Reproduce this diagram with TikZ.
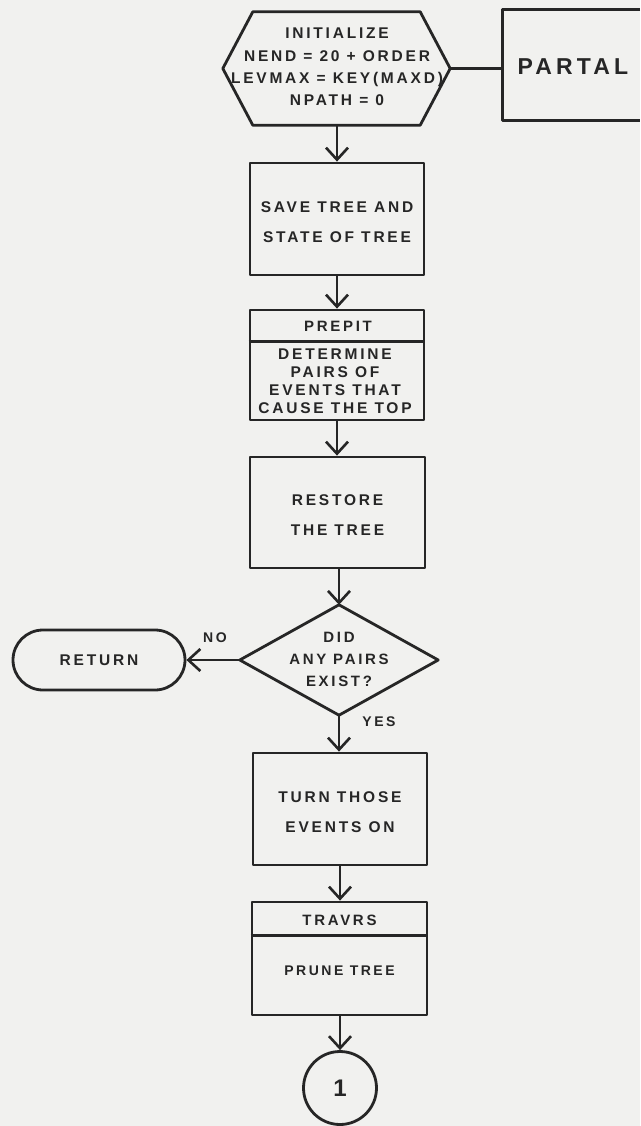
\documentclass[tikz,border=0pt]{standalone}
\usepackage{fontspec}
\setmainfont{Liberation Sans}[LetterSpace=18]
\usetikzlibrary{arrows.meta,shapes.misc,shapes.geometric}
\definecolor{ink}{HTML}{262626}
\definecolor{paper}{HTML}{F1F1EF}
\begin{document}
\begin{tikzpicture}[x=1pt,y=-1pt,
  ln/.style={draw=ink,line width=2.8pt,line join=round},
  arr/.style={ln,-{Straight Barb[length=12pt,width=22pt,line width=2.6pt]}},
  txt/.style={inner sep=0pt,align=center,text=ink,font=\fontsize{15.5}{29.5}\selectfont\bfseries},
  small/.style={inner sep=0pt,align=center,text=ink,font=\fontsize{15}{18}\selectfont\bfseries},
  box/.style={ln,rectangle,inner sep=0pt,minimum width=174pt,minimum height=112pt},
  ghost/.style={rectangle,inner sep=0pt}
]
\useasboundingbox[fill=paper] (0,0) rectangle (640,1126);

% Initialize hexagon
\node[ghost,minimum width=227pt,minimum height=113pt] (init) at (336.5,68.5) {};
\draw[ln] (init.west) -- ([xshift=30pt]init.north west) -- ([xshift=-30pt]init.north east)
  -- (init.east) -- ([xshift=-30pt]init.south east) -- ([xshift=30pt]init.south west) -- cycle;
\node[txt,font=\fontsize{15.5}{22.3}\selectfont\bfseries] (inittxt) at (337,67)
  {INITIALIZE\\NEND = 20 + ORDER\\LEVMAX = KEY(MAXD)\\NPATH = 0};

% PARTAL
\node[ghost,minimum width=137pt,minimum height=110pt] (partal) at (571.5,65) {};
\draw[ln] (partal.north east) -- (partal.north west) -- (partal.south west) -- (partal.south east);
\node[txt,font=\fontsize{23}{26}\selectfont\bfseries] (partaltxt) at (573,67) {PARTAL};
\draw[ln] (init.east) -- (init.east -| partal.west);

% Save tree
\node[box] (save) at (337,219) {};
\node[txt] (savetxt) at (337,222) {SAVE TREE AND\\STATE OF TREE};

% PREPIT
\node[box,minimum height=110pt] (prep) at (337,365) {};
\draw[ln] ([yshift=-33pt]prep.north west) -- ([yshift=-33pt]prep.north east);
\node[small] (prephead) at (338,326) {PREPIT};
\node[small,font=\fontsize{15.5}{18}\selectfont\bfseries] (prepbody) at (335,381) {DETERMINE\\PAIRS OF\\EVENTS THAT\\CAUSE THE TOP};

% Restore
\node[box,minimum width=175pt,minimum height=111pt] (rest) at (337.5,512.5) {};
\node[txt] (resttxt) at (337.5,515) {RESTORE\\THE TREE};

% Decision
\node[ghost,minimum width=198pt,minimum height=110pt] (dia) at (339,660) {};
\draw[ln] (dia.north) -- (dia.east) -- (dia.south) -- (dia.west) -- cycle;
\node[small,font=\fontsize{15}{22}\selectfont\bfseries] (diatxt) at (339,659) {DID\\ANY PAIRS\\EXIST?};

% Return
\node[ln,rounded rectangle,inner sep=0pt,minimum width=172pt,minimum height=60pt] (ret) at (99,660) {};
\node[txt] (rettxt) at (99,660) {RETURN};
\node[small,font=\fontsize{14}{17}\selectfont\bfseries] (no) at (215,638) {NO};
\node[small,font=\fontsize{14}{17}\selectfont\bfseries] (yes) at (379,722) {YES};

% Turn on
\node[box] (turn) at (340,809) {};
\node[txt] (turntxt) at (340,812) {TURN THOSE\\EVENTS ON};

% TRAVRS
\node[box,minimum width=175pt,minimum height=113pt] (trav) at (339.5,958.5) {};
\draw[ln] ([yshift=-35pt]trav.north west) -- ([yshift=-35pt]trav.north east);
\node[small] (travhead) at (339.5,920) {TRAVRS};
\node[small,font=\fontsize{14}{17}\selectfont\bfseries] (travbody) at (339.5,971) {PRUNE TREE};

% Connector circle
\node[ln,circle,inner sep=0pt,minimum size=73pt] (conn) at (340,1088) {};
\node[txt,font=\fontsize{24}{28}\selectfont\bfseries] (conntxt) at (340,1088) {1};

% Arrows
\draw[arr] (init.south -| save.north) -- (save.north);
\draw[arr] (save.south) -- (save.south |- prep.north);
\draw[arr] (prep.south) -- (prep.south |- rest.north);
\draw[arr] (rest.south -| dia.north) -- (dia.north);
\draw[arr] (dia.west) -- (ret.east);
\draw[arr] (dia.south) -- (dia.south |- turn.north);
\draw[arr] (turn.south) -- (turn.south |- trav.north);
\draw[arr] (trav.south -| conn.north) -- (conn.north);
\end{tikzpicture}
\end{document}
